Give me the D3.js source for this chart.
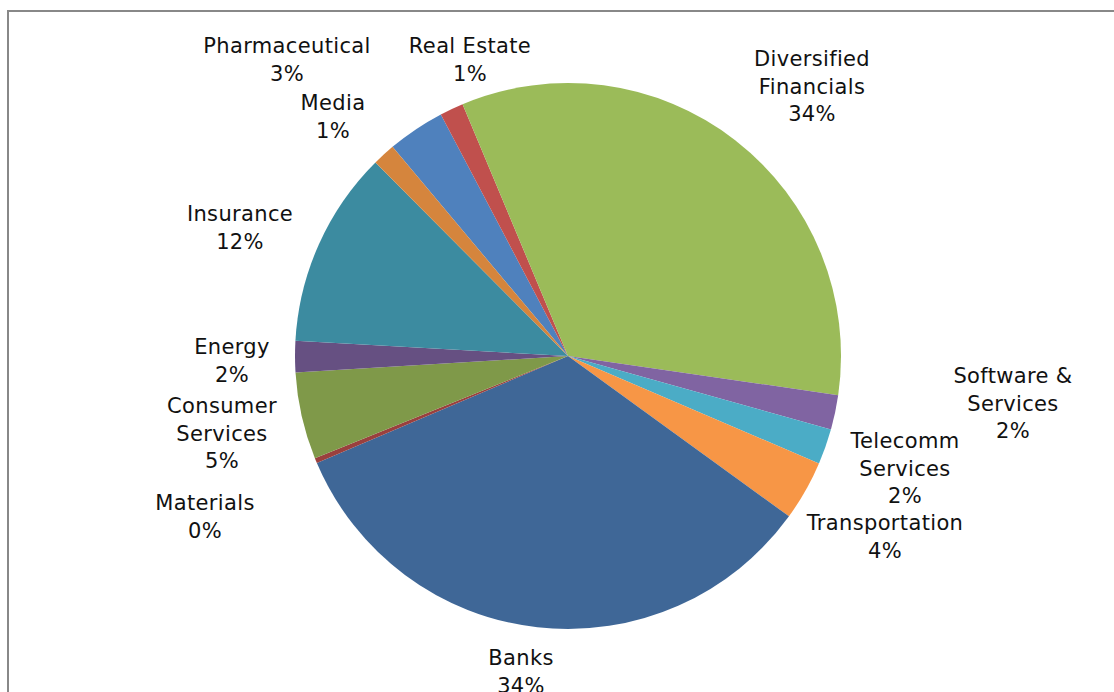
<!DOCTYPE html>
<html>
<head>
<meta charset="utf-8">
<script src="https://cdn.jsdelivr.net/npm/d3@7"></script>
<style>
  body { margin: 0; background: #fff; }
  svg { display: block; }
</style>
</head>
<body>
<div id="chart"></div>
<script>
// Sectors, in the order the sheet lists them (first one starts at 320 deg)
let sectors = ['Pharmaceutical', 'Real Estate', 'Diversified Financials', 'Software & Services',
  'Telecomm Services', 'Transportation', 'Banks', 'Materials', 'Consumer Services',
  'Energy', 'Insurance', 'Media'];

// share of holdings, percent
let shares = [3.4, 1.4, 33.6, 2.05, 2.1, 3.55, 33.6, 0.3, 5.15, 1.85, 11.65, 1.35];

// label text lines (name split the way the chart wraps it)
let labelLines = [['Pharmaceutical'], ['Real Estate'], ['Diversified', 'Financials'], ['Software &', 'Services'],
  ['Telecomm', 'Services'], ['Transportation'], ['Banks'], ['Materials'], ['Consumer', 'Services'],
  ['Energy'], ['Insurance'], ['Media']];

let colors = ['#4F81BD', '#C0504D', '#9BBB59', '#8064A2', '#4BACC6', '#F79646',
  '#3F6797', '#9A403E', '#7F9949', '#665082', '#3C8BA0', '#D5853D'];

// where each label block sits (centre x, first baseline y)
let labelAt = [[287, 53], [470, 53], [812, 66], [1013, 383], [905, 448], [885, 530],
  [521, 665], [205, 510], [222, 413], [232, 354], [240, 221], [333, 110]];

let data = sectors.map((s, i) => ({sector: s, share: shares[i], lines: labelLines[i], color: colors[i], at: labelAt[i]}));

let width = 1114, height = 692;
let cx = 568, cy = 356, radius = 273;
let lineH = 27.5;

let svg = d3.select('#chart')
  .append('svg')
  .attr('width', width)
  .attr('height', height);

// chart frame
svg.append('rect')
  .attr('x', 8)
  .attr('y', 11)
  .attr('width', width + 20)
  .attr('height', height + 20)
  .attr('fill', 'none')
  .attr('stroke', '#888')
  .attr('stroke-width', 2);

let pie = d3.pie()
  .sort(null)
  .value(d => d.share)
  .startAngle(320 * Math.PI / 180)
  .endAngle((320 + 360) * Math.PI / 180);

let arc = d3.arc()
  .innerRadius(0)
  .outerRadius(radius);

let total = d3.sum(shares);
let pct = d3.format('.0%');

let g = svg.append('g')
  .attr('transform', `translate(${cx},${cy})`);

g.selectAll('path')
  .data(pie(data))
  .enter()
  .append('path')
  .attr('d', arc)
  .attr('fill', d => d.data.color);

// labels
let labels = svg.selectAll('text.lbl')
  .data(data)
  .enter()
  .append('text')
  .attr('class', 'lbl')
  .attr('text-anchor', 'middle')
  .style('font-family', '"DejaVu Sans", sans-serif')
  .style('font-size', '21px')
  .style('letter-spacing', '0.35px')
  .style('fill', '#111');

labels.each(function(d) {
  let t = d3.select(this);
  let lines = d.lines.concat([pct(d.share / total)]);
  lines.forEach((l, i) => {
    t.append('tspan')
      .attr('x', d.at[0])
      .attr('y', d.at[1] + i * lineH)
      .text(l);
  });
});
</script>
</body>
</html>
